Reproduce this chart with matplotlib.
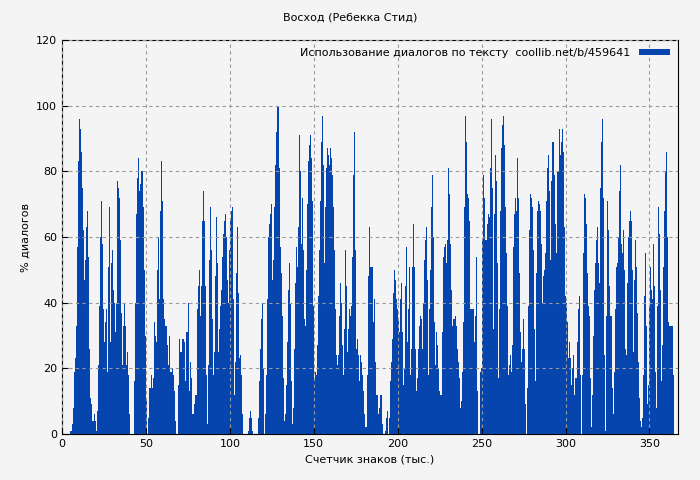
import numpy as np
import matplotlib.pyplot as plt

# % of dialogue per ~0.6k characters in six chunks
seg1 = [0] * 8 + [1, 1, 3, 8, 19, 23, 33, 57, 83, 96, 93, 86, 75, 62, 47, 53, 63, 68, 54, 26,
        11, 9, 4, 4, 6, 4, 1, 7, 21, 39, 60, 71, 58, 38, 28, 34, 38, 19, 51, 69,
        28, 52, 56, 44, 40, 31, 40, 77, 75, 72, 59, 37, 21, 33, 40, 33, 21, 25, 18, 6,
        0, 0, 0, 0, 16, 40, 67, 78, 84, 74, 76, 80, 80, 69, 50, 30, 11, 0, 5, 14,
        14, 18, 14, 17, 34, 30, 28, 50, 60, 41, 68, 83, 71, 41, 35, 33, 33]
seg2 = [27, 21, 30, 19, 19, 20, 18, 13, 4, 0, 0, 15, 29, 25, 25, 29, 29, 28, 16, 31, 31, 40, 13,
        22, 17, 6, 6, 9, 12, 12, 38, 45, 50, 36, 45, 65, 74, 65, 45, 18, 3, 21, 53, 69, 56, 35,
        18, 25, 48, 66, 52, 25, 32, 39, 44, 54, 61, 65, 67, 60, 47, 40, 56, 65, 68, 69, 41, 12,
        22, 49, 63, 43, 23, 24, 18, 6, 0, 0, 0, 0, 0, 1, 5, 7, 5, 1, 0, 0, 0, 0, 0, 5, 16, 26,
        35, 40, 20, 0, 6, 18, 41, 60, 64]
seg3 = [67, 70, 47, 53, 69, 82, 92, 100, 100, 81, 57, 49, 36, 17, 4, 6, 15, 28, 44, 52, 40, 16,
        3, 8, 26, 46, 57, 51, 63, 91, 80, 58, 72, 56, 35, 33, 50, 70, 83, 88, 91, 84, 71, 39, 17,
        19, 18, 27, 42, 56, 71, 89, 97, 82, 52, 69, 81, 87, 85, 82, 87, 84, 79, 69, 56, 38, 24,
        21, 24, 36, 46, 40, 27, 18, 32, 56, 45, 25, 32, 38, 36, 39, 54, 79, 92, 56, 26, 29, 24,
        16, 24, 22, 18, 13, 6, 2, 2, 18, 48, 63, 51, 51, 51]
seg4 = [34, 41, 22, 12, 12, 6, 8, 12, 12, 3, 0, 0, 1, 5, 7, 0, 5, 16, 22, 29, 43, 50, 47, 41, 38,
        35, 31, 41, 46, 31, 15, 20, 45, 57, 28, 38, 51, 18, 26, 51, 64, 51, 26, 13, 17, 26, 33,
        36, 35, 26, 40, 53, 59, 63, 47, 18, 38, 50, 69, 79, 60, 34, 21, 31, 27, 20, 13, 12, 12,
        31, 54, 57, 58, 52, 59, 81, 73, 58, 44, 33, 35, 35, 36, 33, 26, 22, 17, 8, 10, 19, 34,
        69, 97, 89, 73, 72, 65, 38, 38, 38, 38]
seg5 = [28, 36, 54, 13, 0, 0, 19, 20, 59, 79, 72, 59, 59, 64, 67, 66, 81, 96, 75, 32, 67, 85, 77,
        52, 17, 38, 68, 87, 94, 97, 88, 69, 55, 39, 18, 21, 24, 19, 27, 57, 67, 72, 68, 84, 72,
        49, 31, 22, 26, 35, 26, 9, 0, 14, 39, 62, 73, 72, 69, 56, 32, 16, 49, 68, 71, 70, 68, 58,
        40, 48, 50, 55, 71, 81, 85, 74, 53, 77, 89, 89, 79, 64, 55, 80, 80, 93, 85, 89, 93, 86,
        63, 42, 40, 34, 23, 28, 23, 15, 20, 24, 12, 17, 17]
seg6 = [28, 38, 42, 18, 0, 18, 55, 73, 72, 64, 49, 39, 36, 17, 2, 12, 30, 44, 52, 59, 63, 52, 46,
        75, 89, 96, 72, 24, 1, 36, 71, 62, 45, 36, 36, 28, 14, 6, 19, 38, 51, 52, 60, 74, 82, 58,
        55, 62, 50, 26, 24, 46, 60, 65, 68, 65, 50, 25, 47, 59, 51, 37, 22, 11, 4, 2, 5, 18, 42,
        55, 33, 9, 15, 39, 51, 44, 41, 58, 45, 19, 8, 39, 69, 61, 44, 16, 27, 51, 68, 80, 86, 60,
        34, 33, 33, 33, 33, 18]

values = np.array(seg1 + seg2 + seg3 + seg4 + seg5 + seg6, dtype=float)
step = 1 / 1.68  # thousand characters per bar
xs = np.arange(len(values)) * step

bg = "#f4f4f4"
blue = "#0645ad"

fig = plt.figure(figsize=(7, 4.8), dpi=100, facecolor=bg)
ax = fig.add_axes([62 / 700, 46 / 480, 616 / 700, 394 / 480], facecolor=bg)

ax.bar(xs, values, width=step, align="edge", color=blue, linewidth=0,
       label="Использование диалогов по тексту  coollib.net/b/459641")

ax.set_xlim(0, 367)
ax.set_ylim(0, 120)
ax.set_xticks(np.arange(0, 351, 50))
ax.set_yticks(np.arange(0, 121, 20))
ax.grid(True, color="#999999", linestyle=(0, (3, 3)), linewidth=0.8)
ax.set_axisbelow(False)
ax.tick_params(labelsize=8, direction="in", length=4)
for s in ax.spines.values():
    s.set_color("black")

fig.suptitle("Восход (Ребекка Стид)", y=0.975, fontsize=8)
ax.set_xlabel("Счетчик знаков (тыс.)", fontsize=8)
ax.set_ylabel("% диалогов", fontsize=8)

leg = ax.legend(loc="upper right", fontsize=8, frameon=False, markerfirst=False,
                handlelength=2.8, handleheight=0.5, borderaxespad=0.3)

fig.savefig("out.png", dpi=100, facecolor=bg)
